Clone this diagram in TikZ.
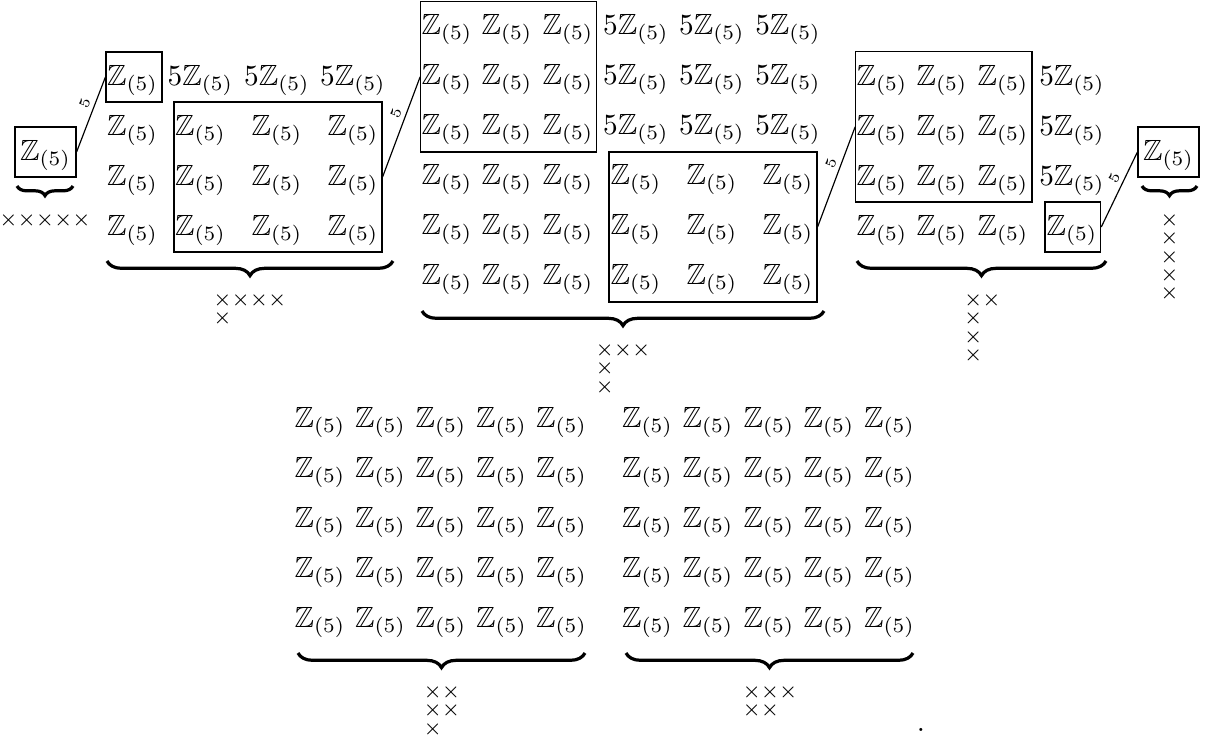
\documentclass[tikz,border=0pt]{standalone}
\usepackage{amssymb}
\usepackage{tikz}
\usetikzlibrary{decorations.pathreplacing, fit}

\newcommand{\zl}{\mathbb{Z}_{(5)}}
\newcommand{\tm}{{\times}}

\begin{document}
\begin{tikzpicture}[
    x=0.342pt, y=-0.342pt,
    entry/.style={anchor=base, inner sep=0pt},
    cellbox/.style={draw, inner sep=0pt, line width=0.4pt},
    mapline/.style={line width=0.4pt},
    five/.style={font=\tiny, sloped, above, inner sep=1.5pt, pos=0.6},
    ubrace/.style={decorate, decoration={brace, mirror, amplitude=#1}, line width=1.1pt},
    count/.style={anchor=north, align=left, inner sep=0pt,
        font=\fontsize{7}{6.3}\selectfont}
]
\useasboundingbox (0,0) rectangle (1222,734);

% --- single entries at the two ends ---
\node[entry] (g0) at (45.5,160) {$\zl$};
\node[entry] (g4) at (1168.5,160) {$\zl$};

% --- 4x4 block ---
\foreach \c/\x in {1/132.5, 2/200.5, 3/277, 4/353}
  \foreach \r/\y in {1/85, 2/135, 3/185, 4/235}
    \node[entry] (g1-\r-\c) at (\x,\y) {$\ifnum\r=1 \ifnum\c>1 5\fi\fi\zl$};

% --- 6x6 block ---
\foreach \c/\x in {1/447, 2/507, 3/568, 4/636, 5/712, 6/788}
  \foreach \r/\y in {1/34, 2/84, 3/134, 4/184, 5/234, 6/284}
    \node[entry] (g2-\r-\c) at (\x,\y) {$\ifnum\r<4 \ifnum\c>3 5\fi\fi\zl$};

% --- 4x4 block (right) ---
\foreach \c/\x in {1/882, 2/942, 3/1003, 4/1072}
  \foreach \r/\y in {1/85, 2/135, 3/185, 4/235}
    \node[entry] (g3-\r-\c) at (\x,\y) {$\ifnum\r<4 \ifnum\c=4 5\fi\fi\zl$};

% --- two 5x5 blocks ---
\foreach \c/\x in {1/320, 2/380.5, 3/441, 4/501.5, 5/561.5}
  \foreach \r/\y in {1/427, 2/477, 3/527, 4/577, 5/627}
    \node[entry] (g5-\r-\c) at (\x,\y) {$\zl$};
\foreach \c/\x in {1/647.5, 2/708, 3/769, 4/829, 5/889.5}
  \foreach \r/\y in {1/427, 2/477, 3/527, 4/577, 5/627}
    \node[entry] (g6-\r-\c) at (\x,\y) {$\zl$};

\node[entry] (stop) at (921,731) {.};

% --- boxes ---
\node[cellbox, fit={(15,127) (76,177)}] (b0) {};
\node[cellbox, fit={(106,52) (162,102)}] (b1a) {};
\node[cellbox, fit={(174,102) (382,252)}] (b1b) {};
\node[cellbox, fit={(420.7,1.7) (596.7,152)}] (b2a) {};
\node[cellbox, fit={(609,152) (817,302)}] (b2b) {};
\node[cellbox, fit={(855.7,51.7) (1032,202)}] (b3a) {};
\node[cellbox, fit={(1045,202) (1100.7,252)}] (b3b) {};
\node[cellbox, fit={(1138,127) (1199,177)}] (b4) {};

% --- maps ---
\draw[mapline] (b0.east) -- node[five] {$5$} (b1a.west);
\draw[mapline] (b1b.east) -- node[five] {$5$} (b2a.west);
\draw[mapline] (b2b.east) -- node[five] {$5$} (b3a.west);
\draw[mapline] (b3b.east) -- node[five] {$5$} (b4.west);

% --- underbraces ---
\foreach \xa/\xb/\yb/\amp in {17/73/186/3.3pt, 107/393/261/5pt, 422/824/311/5pt,
    857/1106/261/5pt, 1142/1197/186/3.3pt, 298/585/653/5pt, 626/913/653/5pt}
  \draw[ubrace=\amp] (\xa,\yb) -- (\xb,\yb);

% --- counts under the braces ---
\node[count] (l0) at (45,212) {$\tm\tm\tm\tm\tm$};
\node[count] (l1) at (250,292) {$\tm\tm\tm\tm$\\$\tm$};
\node[count] (l2) at (623,342) {$\tm\tm\tm$\\$\tm$\\$\tm$};
\node[count] (l3) at (982.5,292) {$\tm\tm$\\$\tm$\\$\tm$\\$\tm$};
\node[count] (l4) at (1169.5,212) {$\tm$\\$\tm$\\$\tm$\\$\tm$\\$\tm$};
\node[count] (l5) at (442,684) {$\tm\tm$\\$\tm\tm$\\$\tm$};
\node[count] (l6) at (770,684) {$\tm\tm\tm$\\$\tm\tm$};

\end{tikzpicture}
\end{document}
